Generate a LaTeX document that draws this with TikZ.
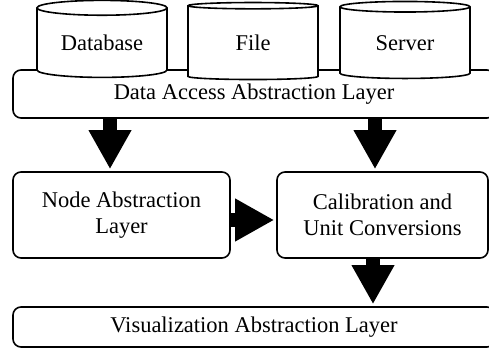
\documentclass[tikz,border=0pt]{standalone}
\usepackage{fontspec}
\setmainfont{Liberation Serif}
\usetikzlibrary{shapes.geometric,arrows.meta}
\tikzset{
  layer/.style={draw, line width=1.6pt, rounded corners=8pt, fill=white, align=center, inner sep=0pt},
  store/.style={cylinder, shape border rotate=90, draw, line width=1.6pt, fill=white, aspect=0.18, minimum width=130pt, minimum height=77pt, inner sep=0pt},
  fat/.style={line width=14pt, -{Triangle[length=39pt,width=40pt]}, shorten >=2pt}
}
\begin{document}
\begin{tikzpicture}[x=1pt,y=-1pt,font=\fontsize{22.5}{25.5}\selectfont]
\useasboundingbox (0,0) rectangle (489,358);
\clip (0,0) rectangle (489,358);
% data access layer with the sources on top
\node[layer, minimum width=482pt, minimum height=48pt] (dal) at (254,94) {Data Access Abstraction Layer};
\node[store] (db) at (102,43) {Database};
\node[store] (file) at (253,43) {File};
\node[store] (srv) at (405,43) {Server};
% middle row
\node[layer, minimum width=217pt, minimum height=86pt] (nal) at (121.5,215) {Node Abstraction\\Layer};
\node[layer, minimum width=211pt, minimum height=86pt] (cal) at (382.5,215) {Calibration and\\Unit Conversions};
% bottom
\node[layer, minimum width=482pt, minimum height=40pt] (val) at (254,327) {Visualization Abstraction Layer};
% arrows
\path ([xshift=-11.5pt]nal.north) coordinate (n1);
\path ([xshift=-7.5pt]cal.north) coordinate (c1);
\path ([xshift=-9.5pt]val.north -| cal.north) coordinate (v1);
\draw[fat] (n1 |- dal.south) -- (n1);
\draw[fat] (c1 |- dal.south) -- (c1);
\draw[fat] ([yshift=-5pt]nal.east) -- ([yshift=-5pt]cal.west);
\draw[fat] (v1 |- cal.south) -- (v1);
\end{tikzpicture}
\end{document}
